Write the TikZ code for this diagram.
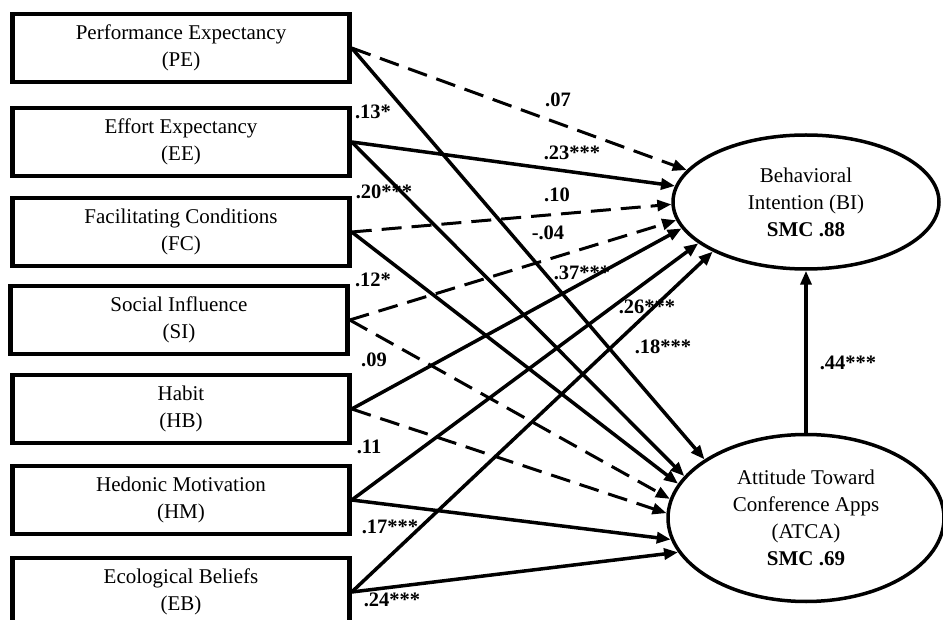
\documentclass[tikz,border=0pt]{standalone}
\usepackage{fontspec}
\setmainfont{Liberation Serif}
\usetikzlibrary{arrows.meta,shapes.geometric}

\begin{document}
\begin{tikzpicture}[x=1pt,y=-1pt,>={Triangle[length=14pt,width=11pt]},
  factor/.style={draw,line width=4.5pt,minimum width=337pt,minimum height=68pt,inner sep=0pt,align=center,font=\fontsize{21}{27}\selectfont},
  latent/.style={draw,ellipse,line width=3.5pt,inner sep=0pt,align=center,font=\fontsize{21}{27}\selectfont},
  sig/.style={->,line width=3.5pt},
  nonsig/.style={->,line width=3pt,dash pattern=on 20pt off 10pt},
  coef/.style={font=\fontsize{20.5}{22}\selectfont\bfseries}]
  \useasboundingbox (0,0) rectangle (943,620);
  \node[factor] (pe) at (181,48) {Performance Expectancy\\(PE)};
  \node[factor] (ee) at (181,142) {Effort Expectancy\\(EE)};
  \node[factor] (fc) at (181,232) {Facilitating Conditions\\(FC)};
  \node[factor] (si) at (179,320) {Social Influence\\(SI)};
  \node[factor] (hb) at (181,409) {Habit\\(HB)};
  \node[factor] (hm) at (181,500) {Hedonic Motivation\\(HM)};
  \node[factor] (eb) at (181,592) {Ecological Beliefs\\(EB)};
  \node[latent,minimum width=266pt,minimum height=134pt] (bi) at (806,202)
    {Behavioral\\Intention (BI)\\\textbf{SMC .88}};
  \node[latent,minimum width=276pt,minimum height=167pt] (atca) at (806,518)
    {Attitude Toward\\Conference Apps\\(ATCA)\\\textbf{SMC .69}};
  % paths to BI
  \draw[nonsig] (pe.east) -- (bi.165);
  \draw[sig] (ee.east) -- (bi.173);
  \draw[nonsig] (fc.east) -- (bi.181);
  \draw[nonsig] (si.east) -- (bi.188);
  \draw[sig] (hb.east) -- (bi.192);
  \draw[sig] (hm.east) -- (bi.201);
  \draw[sig] (eb.east) -- (bi.208);
  % paths to ATCA
  \draw[sig] (pe.east) -- (atca.150);
  \draw[sig] (ee.east) -- (atca.161);
  \draw[sig] (fc.east) -- (atca.165);
  \draw[nonsig] (si.east) -- (atca.172);
  \draw[nonsig] (hb.east) -- (atca.178);
  \draw[sig] (hm.east) -- (atca.189);
  \draw[sig] (eb.east) -- (atca.195);
  \draw[sig] (atca.north) -- (bi.south);
  \node[coef] (c07) at (558,100) {.07};
  \node[coef] (c23) at (572,153) {.23***};
  \node[coef] (c10) at (557,195) {.10};
  \node[coef] (c04) at (548,233) {-.04};
  \node[coef] (c37) at (582,273) {.37***};
  \node[coef] (c26) at (647,307) {.26***};
  \node[coef] (c18) at (663,347) {.18***};
  \node[coef] (c44) at (848,363) {.44***};
  \node[coef] (c13) at (373,112) {.13*};
  \node[coef] (c20) at (384,192) {.20***};
  \node[coef] (c12) at (373,280) {.12*};
  \node[coef] (c09) at (374,360) {.09};
  \node[coef] (c11) at (369,447) {.11};
  \node[coef] (c17) at (390,527) {.17***};
  \node[coef] (c24) at (392,600) {.24***};
\end{tikzpicture}
\end{document}
